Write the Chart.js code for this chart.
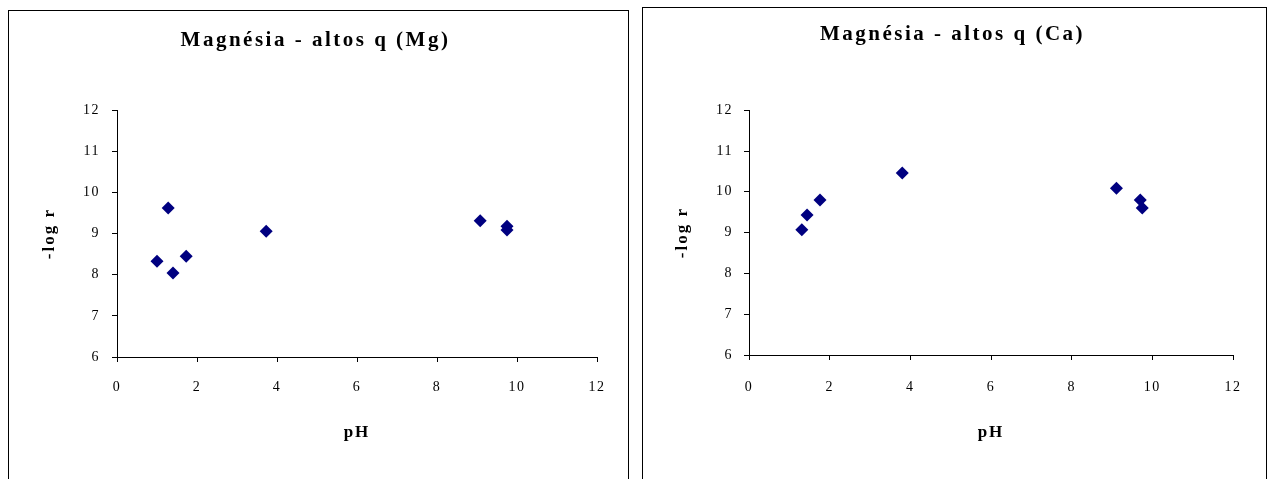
<!DOCTYPE html>
<html>
<head>
<meta charset="utf-8">
<script src="https://cdn.jsdelivr.net/npm/chart.js@4/dist/chart.umd.min.js"></script>
<style>
  body { margin: 0; background: #fff; width: 1268px; height: 479px; overflow: hidden; position: relative; }
  .panel { position: absolute; border: 1px solid #000; border-bottom: none; box-sizing: border-box; }
  .box { position: absolute; }
</style>
</head>
<body>
<div class="panel" style="left:8px; top:10px; width:621px; height:470px;"></div>
<div class="panel" style="left:642px; top:7px; width:625px; height:473px;"></div>
<div class="box" style="left:9px; top:11px; width:618px; height:468px;"><canvas id="chartMg"></canvas></div>
<div class="box" style="left:643px; top:8px; width:622px; height:471px;"><canvas id="chartCa"></canvas></div>
<script>
// Magnésia - altos q, Mg
const phMg = [1.0, 1.28, 1.4, 1.73, 3.73, 9.08, 9.75, 9.75];
const logrMg = [8.33, 9.62, 8.04, 8.45, 9.06, 9.31, 9.18, 9.09];

// Magnésia - altos q, Ca
const phCa = [1.31, 1.44, 1.76, 3.8, 9.11, 9.7, 9.75];
const logrCa = [9.07, 9.43, 9.8, 10.46, 10.09, 9.8, 9.6];

const xTicks = [0, 2, 4, 6, 8, 10, 12];
const yTicks = [6, 7, 8, 9, 10, 11, 12];

const serif = '"Liberation Serif", "DejaVu Serif", serif';

// the original text is drawn with wide letter spacing
function spaceLetters(ctx) {
    const fill = ctx.fillText.bind(ctx);
    ctx.fillText = function (text, x, y, maxWidth) {
        const f = ctx.font;
        if (f.indexOf('21px') >= 0) ctx.letterSpacing = '2.5px';
        else if (f.indexOf('bold') >= 0) ctx.letterSpacing = '2px';
        else ctx.letterSpacing = '1.5px';
        if (maxWidth === undefined) fill(text, x, y);
        else fill(text, x, y, maxWidth);
        ctx.letterSpacing = '0px';
    };
}

function makeChart(id, title, ph, logr, box) {
    const ctx = document.getElementById(id).getContext('2d');
    spaceLetters(ctx);
    const points = ph.map((x, i) => ({ x: x, y: logr[i] }));

    return new Chart(ctx, {
        type: 'scatter',
        data: {
            datasets: [{
                data: points,
                pointStyle: 'rectRot',
                pointRadius: 6.5,
                pointBackgroundColor: '#000080',
                pointBorderColor: '#000080',
                pointBorderWidth: 0
            }]
        },
        options: {
            responsive: true,
            maintainAspectRatio: false,
            animation: false,
            layout: { padding: { top: 0, left: box.left, right: box.right, bottom: 0 } },
            plugins: {
                legend: { display: false },
                tooltip: { enabled: false },
                title: {
                    display: true,
                    text: title,
                    color: '#000',
                    font: { family: serif, size: 21, weight: 'bold' },
                    padding: { top: box.titleTop, bottom: box.titleBottom }
                }
            },
            scales: {
                x: {
                    type: 'linear',
                    min: 0,
                    max: 12,
                    afterBuildTicks: s => { s.ticks = xTicks.map(v => ({ value: v })); },
                    afterFit: s => { s.height = box.xHeight; },
                    border: { display: true, color: '#000', width: 1 },
                    grid: { drawOnChartArea: false, drawTicks: true, tickLength: 5, color: '#000' },
                    ticks: { color: '#000', padding: box.xPad, maxRotation: 0, font: { family: serif, size: 14 } },
                    title: {
                        display: true,
                        text: 'pH',
                        color: '#000',
                        font: { family: serif, size: 17, weight: 'bold' },
                        padding: { top: 0, bottom: box.xTitleBottom }
                    }
                },
                y: {
                    type: 'linear',
                    min: 6,
                    max: 12,
                    afterBuildTicks: s => { s.ticks = yTicks.map(v => ({ value: v })); },
                    afterFit: s => { s.width = box.yWidth; },
                    border: { display: true, color: '#000', width: 1 },
                    grid: { drawOnChartArea: false, drawTicks: true, tickLength: 5, color: '#000' },
                    ticks: { color: '#000', padding: box.yPad, font: { family: serif, size: 14 } },
                    title: {
                        display: true,
                        text: '-log r',
                        color: '#000',
                        font: { family: serif, size: 17, weight: 'bold' },
                        padding: { top: box.yTitleTop, bottom: 0 }
                    }
                }
            }
        }
    });
}

makeChart('chartMg', 'Magnésia - altos q (Mg)', phMg, logrMg,
    { left: 25, right: 30, titleTop: 17, titleBottom: 57, xHeight: 122, xPad: 17, xTitleBottom: 36, yWidth: 83, yPad: 12, yTitleTop: 5 });
makeChart('chartCa', 'Magnésia - altos q (Ca)', phCa, logrCa,
    { left: 29, right: 32, titleTop: 14, titleBottom: 63, xHeight: 124, xPad: 19, xTitleBottom: 36, yWidth: 77, yPad: 11, yTitleTop: 0 });
</script>
</body>
</html>
